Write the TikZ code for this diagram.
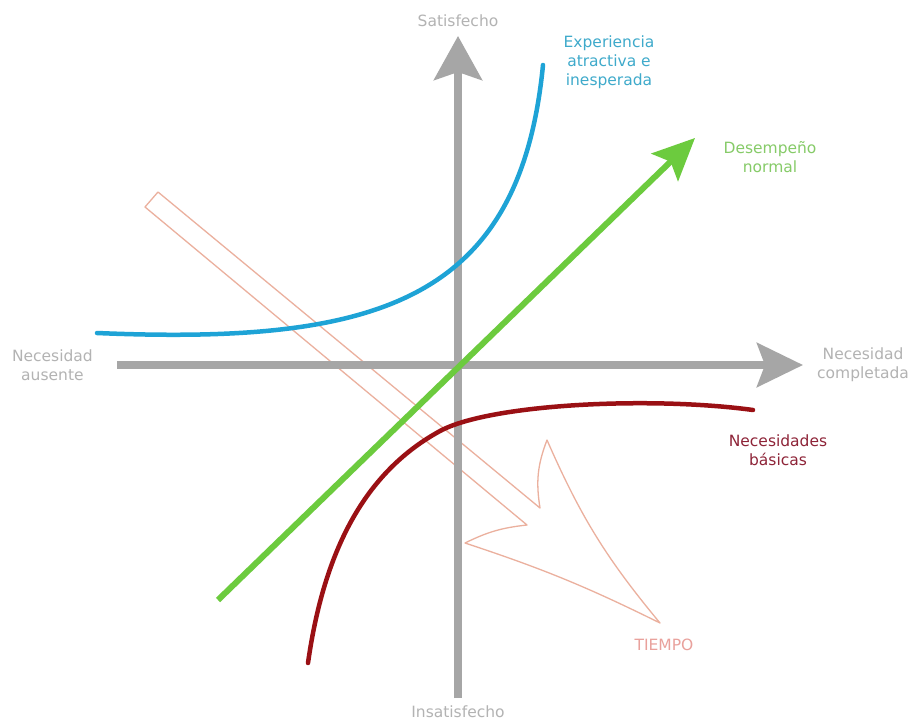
\documentclass[tikz,border=0pt]{standalone}
\usepackage{fontspec}
\setmainfont{DejaVu Sans}
\usetikzlibrary{arrows.meta,positioning}
\definecolor{ejegris}{HTML}{A6A6A6}
\definecolor{txtgris}{HTML}{B3B3B3}
\definecolor{azul}{HTML}{1EA3D6}
\definecolor{azultxt}{HTML}{3FAACB}
\definecolor{verde}{HTML}{6CCB3E}
\definecolor{verdetxt}{HTML}{86CB68}
\definecolor{rojo}{HTML}{9A1014}
\definecolor{rojotxt}{HTML}{8E2438}
\definecolor{salmon}{HTML}{EBB09E}
\definecolor{salmontxt}{HTML}{E9A19C}

\begin{document}
\begin{tikzpicture}[x=1pt,y=-1pt,>=Stealth,node distance=9pt]
  \tikzstyle{lbl}=[inner sep=0pt,align=center,font=\fontsize{15.5}{19}\selectfont]
  \tikzstyle{eje}=[ejegris,line width=7.5pt]
  \tikzstyle{curva}=[line width=4.5pt,line cap=round]
  \useasboundingbox[fill=white] (0,0) rectangle (918,726);
  % flecha del tiempo (solo contorno)
  \coordinate (t1) at (158,192);
  \coordinate (t2) at (540,508);
  \coordinate (t3) at (547,440);
  \coordinate (t4) at (660,623);
  \coordinate (t5) at (465,543);
  \coordinate (t6) at (527,525);
  \coordinate (t7) at (145,207);
  \draw[salmon,line width=1.3pt,line join=round] (t1) -- (t2) to[bend left=15] (t3)
    to[bend right=8] (t4) to[bend right=4] (t5) to[bend left=10] (t6) -- (t7) -- cycle;
  % ejes
  \coordinate (yb) at (458,698);
  \coordinate (yt) at (458,36);
  \coordinate (xl) at (117,365);
  \coordinate (xr) at (803,365);
  \draw[eje,-{Stealth[length=44pt,width=48pt,inset=8pt]}] (yb) -- (yt);
  \draw[eje,-{Stealth[length=46pt,width=44pt,inset=8pt]}] (xl) -- (xr);
  % desempeño normal
  \coordinate (g0) at (218,600);
  \coordinate (g1) at (695,138);
  \draw[verde,line width=6pt,-{Stealth[length=42pt,width=38pt,inset=8pt]}] (g0) -- (g1);
  % experiencia atractiva
  \coordinate (b0) at (97,333);
  \coordinate (b1) at (543,65);
  \draw[azul,curva] (b0) .. controls (380,345) and (520,300) .. (b1);
  % necesidades basicas
  \coordinate (r0) at (308,663);
  \coordinate (r1) at (440,431);
  \coordinate (r2) at (753,410);
  \draw[rojo,curva] (r0) .. controls (324,550) and (365,472) .. (r1)
    .. controls (490,404) and (650,396) .. (r2);
  % textos
  \node[lbl,txtgris,above=9pt of yt] (sat) {Satisfecho};
  \node[lbl,txtgris,below=8pt of yb] (insat) {Insatisfecho};
  \node[lbl,txtgris,left=24pt of xl] (ausente) {Necesidad\\ausente};
  \node[lbl,txtgris,right=14pt of xr] (completa) {Necesidad\\completada};
  \node[lbl,azultxt] (exper) at (609,62) {Experiencia\\atractiva e\\inesperada};
  \node[lbl,verdetxt] (desemp) at (770,157) {Desempeño\\normal};
  \node[lbl,rojotxt] (basicas) at (778,450) {Necesidades\\básicas};
  \node[lbl,salmontxt] (tiempo) at (664,645) {TIEMPO};
\end{tikzpicture}
\end{document}
